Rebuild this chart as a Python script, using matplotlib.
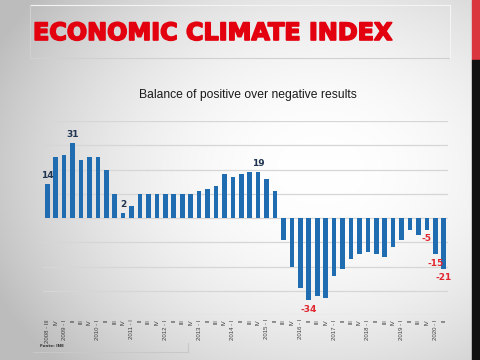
import numpy as np
import matplotlib
matplotlib.use('Agg')
import matplotlib.pyplot as plt
import matplotlib.patheffects as pe
from matplotlib.patches import Rectangle
from matplotlib.lines import Line2D

# ---------------- data ----------------
years = list(range(2008, 2021))
quarter_names = ['I', 'II', 'III', 'IV']
categories = []
for y in years:
    for q in quarter_names:
        if (y == 2008 and q in ('I', 'II')) or (y == 2020 and q in ('III', 'IV')):
            continue
        categories.append((y, q))

values = [14, 25, 26, 31, 24, 25, 25, 20, 10, 2,
          5, 10, 10, 10, 10, 10, 10, 10, 11, 12,
          13, 18, 17, 18, 19, 19, 16, 11, -9, -20,
          -29, -34, -32, -33, -24, -21, -17, -15, -14, -15,
          -16, -12, -9, -5, -7, -5, -15, -21]

labelled_idx = [0, 3, 9, 25, 31, 45, 46, 47]

tick_labels = []
for i, (y, q) in enumerate(categories):
    if i == 0 or q == 'I':
        tick_labels.append(f"{y} - {q}")
    else:
        tick_labels.append(q)

title = "ECONOMIC CLIMATE INDEX"
subtitle = "Balance of positive over negative results"
source = "Fonte: INE"

# ---------------- figure ----------------
W, H = 480, 360
fig = plt.figure(figsize=(W / 100, H / 100), dpi=100)

# background gradient
bg = fig.add_axes([0, 0, 1, 1], zorder=0)
yy, xx = np.mgrid[0:H, 0:W]
r2 = ((xx - 320) / 330.0) ** 2 + ((yy - 170) / 260.0) ** 2
val = np.clip(1.0 - 0.22 * r2, 0.74, 1.0)
img = np.dstack([val, val, val])
bg.imshow(img, extent=[0, W, H, 0], aspect='auto', interpolation='bilinear')
bg.set_xlim(0, W)
bg.set_ylim(H, 0)
bg.axis('off')

# right edge stripes
bg.add_patch(Rectangle((472, 0), 8, 60, color='#d9363e', zorder=2))
bg.add_patch(Rectangle((472, 60), 8, 300, color='#111111', zorder=2))

# title frame
fc = '#f4f4f4'
bg.add_line(Line2D([30, 450], [5, 5], color=fc, lw=0.8, zorder=2))
bg.add_line(Line2D([30, 450], [58, 58], color='#d0d0d0', lw=0.8, zorder=2))
bg.add_line(Line2D([30, 30], [5, 58], color='#d0d0d0', lw=0.8, zorder=2))
bg.add_line(Line2D([450, 450], [5, 58], color=fc, lw=0.8, zorder=2))

# source box
bg.add_line(Line2D([33, 188], [352, 352], color='#c8c8c8', lw=0.8, zorder=2))
bg.add_line(Line2D([188, 188], [343, 352], color='#c8c8c8', lw=0.8, zorder=2))
bg.text(40, 346, source, fontsize=3, color='#333333', va='center', ha='left',
        fontweight='bold')

fig.text(33 / W, 1 - 33 / H, title, fontsize=17.2, fontweight='bold',
         color='#e3000f', ha='left', va='center', family='DejaVu Sans', zorder=3,
         path_effects=[pe.withStroke(linewidth=1.2, foreground='#e3000f')])
fig.text(248 / W, 1 - 95 / H, subtitle, fontsize=8.7, color='#1a1a1a',
         ha='center', va='center', family='Liberation Sans', zorder=3)

# ---------------- chart ----------------
ax = fig.add_axes([43 / W, 1 - 315 / H, (448 - 43) / W, (315 - 121) / H], zorder=2)
ax.patch.set_alpha(0)
x = np.arange(len(values))
ax.bar(x, values, width=0.55, color='#1f6db0', zorder=3)
ax.set_xlim(-0.5, len(values) - 0.5)
ax.set_ylim(-40, 40)
ax.set_yticks([-40, -30, -20, -10, 0, 10, 20, 30, 40])
ax.yaxis.grid(True, color='#d6d6d6', lw=0.9, zorder=1)
ax.set_yticklabels([])
ax.tick_params(axis='y', length=0)
for s in ax.spines.values():
    s.set_visible(False)
ax.set_xticks(x)
ax.set_xticklabels(tick_labels, rotation=90, fontsize=4.3, color='#404040',
                   family='Liberation Sans')
ax.tick_params(axis='x', length=0, pad=3)

for i in labelled_idx:
    v = values[i]
    if v >= 0:
        ax.annotate(str(v), (x[i], v), xytext=(0, 3), textcoords='offset points',
                    ha='center', va='bottom', fontsize=6.5, fontweight='bold',
                    color='#1f3450', zorder=4)
    else:
        ax.annotate(str(v), (x[i], v), xytext=(0, -3), textcoords='offset points',
                    ha='center', va='top', fontsize=6.5, fontweight='bold',
                    color='#e0262e', zorder=4)

fig.savefig('out.png', dpi=100)
